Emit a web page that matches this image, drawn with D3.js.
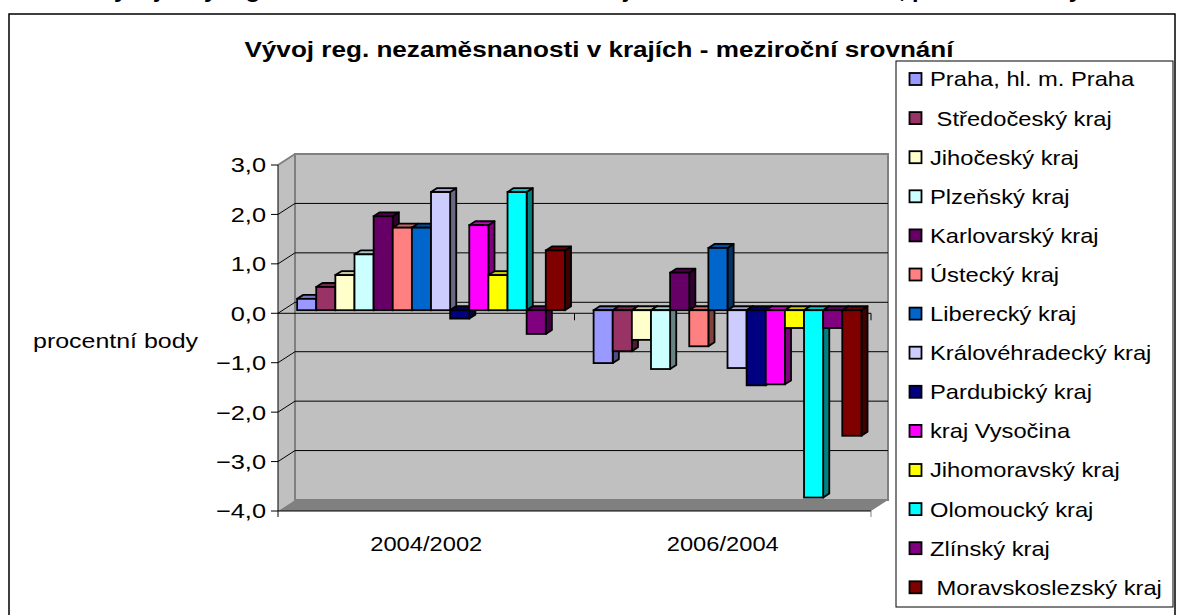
<!DOCTYPE html>
<html>
<head>
<meta charset="utf-8">
<style>
  body { margin: 0; background: #fff; }
  text { font-family: "Liberation Sans", Arial, sans-serif; white-space: pre; }
</style>
</head>
<body>
<svg id="chart" width="1180" height="615"></svg>
<script src="https://cdn.jsdelivr.net/npm/d3@7/dist/d3.min.js"></script>
<script>

// data
var regions = ["Praha, hl. m. Praha", " Středočeský kraj", "Jihočeský kraj", "Plzeňský kraj",
  "Karlovarský kraj", "Ústecký kraj", "Liberecký kraj", "Královéhradecký kraj", "Pardubický kraj",
  "kraj Vysočina", "Jihomoravský kraj", "Olomoucký kraj", "Zlínský kraj", " Moravskoslezský kraj"];
var periods = ["2004/2002", "2006/2004"];
var change0402 = [0.23, 0.47, 0.71, 1.13, 1.90, 1.67, 1.67, 2.39, -0.17, 1.72, 0.71, 2.39, -0.48, 1.21];
var change0604 = [-1.07, -0.83, -0.60, -1.19, 0.76, -0.73, 1.26, -1.17, -1.52, -1.50, -0.36, -3.79, -0.36, -2.54];
var colors = ["#9999ff", "#993366", "#ffffcc", "#ccffff", "#660066", "#ff8080", "#0066cc",
  "#ccccff", "#000080", "#ff00ff", "#ffff00", "#00ffff", "#800080", "#800000"];
var yTicks = [-4, -3, -2, -1, 0, 1, 2, 3];

var svg = d3.select("#chart");
var SX = 1.14; // the picture is stretched sideways
var FS = 20.8;

var locale = d3.formatLocale({ decimal: ",", thousands: " ", grouping: [3], currency: ["", " Kč"] });
var fmt = locale.format(".1f");

function label(g, x, y, str, opts) {
  opts = opts || {};
  return g.append("text")
    .attr("transform", "translate(" + x + "," + y + ") scale(" + (opts.sx || SX) + ",1)")
    .attr("text-anchor", opts.anchor || "start")
    .attr("font-size", opts.size || FS)
    .attr("font-weight", opts.weight || "normal")
    .attr("fill", "#000")
    .text(str);
}

// outer frame
svg.append("rect")
  .attr("x", 9).attr("y", 14).attr("width", 1166).attr("height", 610)
  .attr("fill", "#fff").attr("stroke", "#000").attr("stroke-width", 1.5);

// caption above the frame, cut off by the page edge
label(svg, 590, -2, "Vývoj míry registrované nezaměstnanosti v krajích - meziroční srovnání, procentní body",
  { anchor: "middle", size: 21, weight: "bold", sx: 1.12 });

// scales
var x0 = d3.scaleBand().domain(periods).range([278, 871]);
var x1 = d3.scaleBand().domain(regions).range([0, x0.bandwidth()]).paddingInner(0).paddingOuter(0.75);
var y = d3.scaleLinear().domain([-4, 3]).range([511, 165]);

var DX = 17, DY = -11;             // depth of the plot box
var F0 = 0.28, FD = 0.36;           // bar front offset and depth, as share of DX/DY

var xL = x0.range()[0], xR = x0.range()[1];
var yT = y(3), yB = y(-4);

var plot = svg.append("g");

// side wall
plot.append("path")
  .attr("d", d3.line()([[xL, yT], [xL + DX, yT + DY], [xL + DX, yB + DY], [xL, yB]]) + "Z")
  .attr("fill", "#c0c0c0");

// back wall
plot.append("rect")
  .attr("x", xL + DX).attr("y", yT + DY)
  .attr("width", xR - xL).attr("height", yB - yT)
  .attr("fill", "#c0c0c0").attr("stroke", "#808080").attr("stroke-width", 2);

// floor
plot.append("path")
  .attr("d", d3.line()([[xL, yB], [xL + DX, yB + DY], [xR + DX, yB + DY], [xR, yB]]) + "Z")
  .attr("fill", "#808080");

// top edge of side wall
plot.append("line")
  .attr("x1", xL).attr("y1", yT).attr("x2", xL + DX).attr("y2", yT + DY)
  .attr("stroke", "#808080").attr("stroke-width", 2);

// gridlines
var inner = yTicks.filter(function(t) { return t > -4 && t < 3; });
plot.selectAll(".grid-back").data(inner).enter().append("line")
  .attr("x1", xL + DX).attr("x2", xR + DX)
  .attr("y1", function(d) { return y(d) + DY; }).attr("y2", function(d) { return y(d) + DY; })
  .attr("stroke", "#000").attr("stroke-width", 1);
plot.selectAll(".grid-side").data(inner).enter().append("line")
  .attr("x1", xL).attr("y1", function(d) { return y(d); })
  .attr("x2", xL + DX).attr("y2", function(d) { return y(d) + DY; })
  .attr("stroke", "#000").attr("stroke-width", 1);

// category axis at zero and front edge of floor
var cuts = [xL].concat(periods.map(function(p) { return x0(p) + x0.bandwidth(); }));
plot.append("line")
  .attr("x1", xL).attr("x2", xR).attr("y1", y(0)).attr("y2", y(0))
  .attr("stroke", "#000").attr("stroke-width", 1);
plot.selectAll(".ctick").data(cuts.slice(1)).enter().append("line")
  .attr("x1", function(d) { return d; }).attr("x2", function(d) { return d; })
  .attr("y1", y(0)).attr("y2", y(0) + 7)
  .attr("stroke", "#000").attr("stroke-width", 1);
plot.append("line")
  .attr("x1", xL).attr("x2", xR).attr("y1", yB).attr("y2", yB)
  .attr("stroke", "#000").attr("stroke-width", 1);
plot.selectAll(".btick").data([xL, xR]).enter().append("line")
  .attr("x1", function(d) { return d; }).attr("x2", function(d) { return d; })
  .attr("y1", yB).attr("y2", yB + 6)
  .attr("stroke", function(d, i) { return i ? "#808080" : "#000"; }).attr("stroke-width", 1);

// value axis
plot.append("line")
  .attr("x1", xL).attr("x2", xL).attr("y1", yT).attr("y2", yB)
  .attr("stroke", "#000").attr("stroke-width", 1);
plot.selectAll(".ytick").data(yTicks).enter().append("line")
  .attr("x1", xL - 7).attr("x2", xL)
  .attr("y1", function(d) { return y(d); }).attr("y2", function(d) { return y(d); })
  .attr("stroke", "#000").attr("stroke-width", 1);
yTicks.forEach(function(t) {
  label(svg, 266, y(t) + 7.4, fmt(t), { anchor: "end", sx: 1.22 });
});

// bars
var series = [change0402, change0604];
var bars = [];
periods.forEach(function(p, pi) {
  regions.forEach(function(r, ri) {
    bars.push({ period: p, region: r, value: series[pi][ri], color: colors[ri] });
  });
});

var ox = DX * F0, oy = DY * F0, bx = DX * FD, by = DY * FD;
var w = x1.bandwidth();

var barG = plot.selectAll(".bar").data(bars).enter().append("g").attr("class", "bar");
barG.each(function(d) {
  var g = d3.select(this);
  var xa = x0(d.period) + x1(d.region) + ox, xb = xa + w;
  var yv = y(d.value) + oy, y0 = y(0) + oy;
  var top = Math.min(yv, y0), bot = Math.max(yv, y0);
  var c = d3.color(d.color);
  var line = d3.line();
  // right side
  g.append("path")
    .attr("d", line([[xb, top], [xb + bx, top + by], [xb + bx, bot + by], [xb, bot]]) + "Z")
    .attr("fill", c.darker(1.9)).attr("stroke", "#000").attr("stroke-width", 1.8)
    .attr("stroke-linejoin", "round");
  // top
  g.append("path")
    .attr("d", line([[xa, top], [xa + bx, top + by], [xb + bx, top + by], [xb, top]]) + "Z")
    .attr("fill", c.darker(0.7)).attr("stroke", "#000").attr("stroke-width", 1.8)
    .attr("stroke-linejoin", "round");
  // front
  g.append("rect")
    .attr("x", xa).attr("y", top).attr("width", w).attr("height", bot - top)
    .attr("fill", d.color).attr("stroke", "#000").attr("stroke-width", 1.8);
});

// category labels
periods.forEach(function(p) {
  label(svg, x0(p) + x0.bandwidth() / 2, 551, p, { anchor: "middle" });
});

// axis title
label(svg, 33, 348, "procentní body", { sx: 1.2 });

// legend
var legend = svg.append("g");
legend.append("rect")
  .attr("x", 896).attr("y", 61).attr("width", 277).attr("height", 546)
  .attr("fill", "#fff").attr("stroke", "#000").attr("stroke-width", 1);
var step = 39.1;
regions.forEach(function(r, i) {
  var cy = 79 + i * step;
  legend.append("rect")
    .attr("x", 909.5).attr("y", cy - 6).attr("width", 12).attr("height", 12)
    .attr("fill", colors[i]).attr("stroke", "#000").attr("stroke-width", 1.8);
  label(legend, 930, cy + 7.4, r);
});

// chart title
label(svg, 599, 57, "Vývoj reg. nezaměsnanosti v krajích - meziroční srovnání",
  { anchor: "middle", size: 22.5, weight: "bold", sx: 1.16 });

</script>
</body>
</html>
